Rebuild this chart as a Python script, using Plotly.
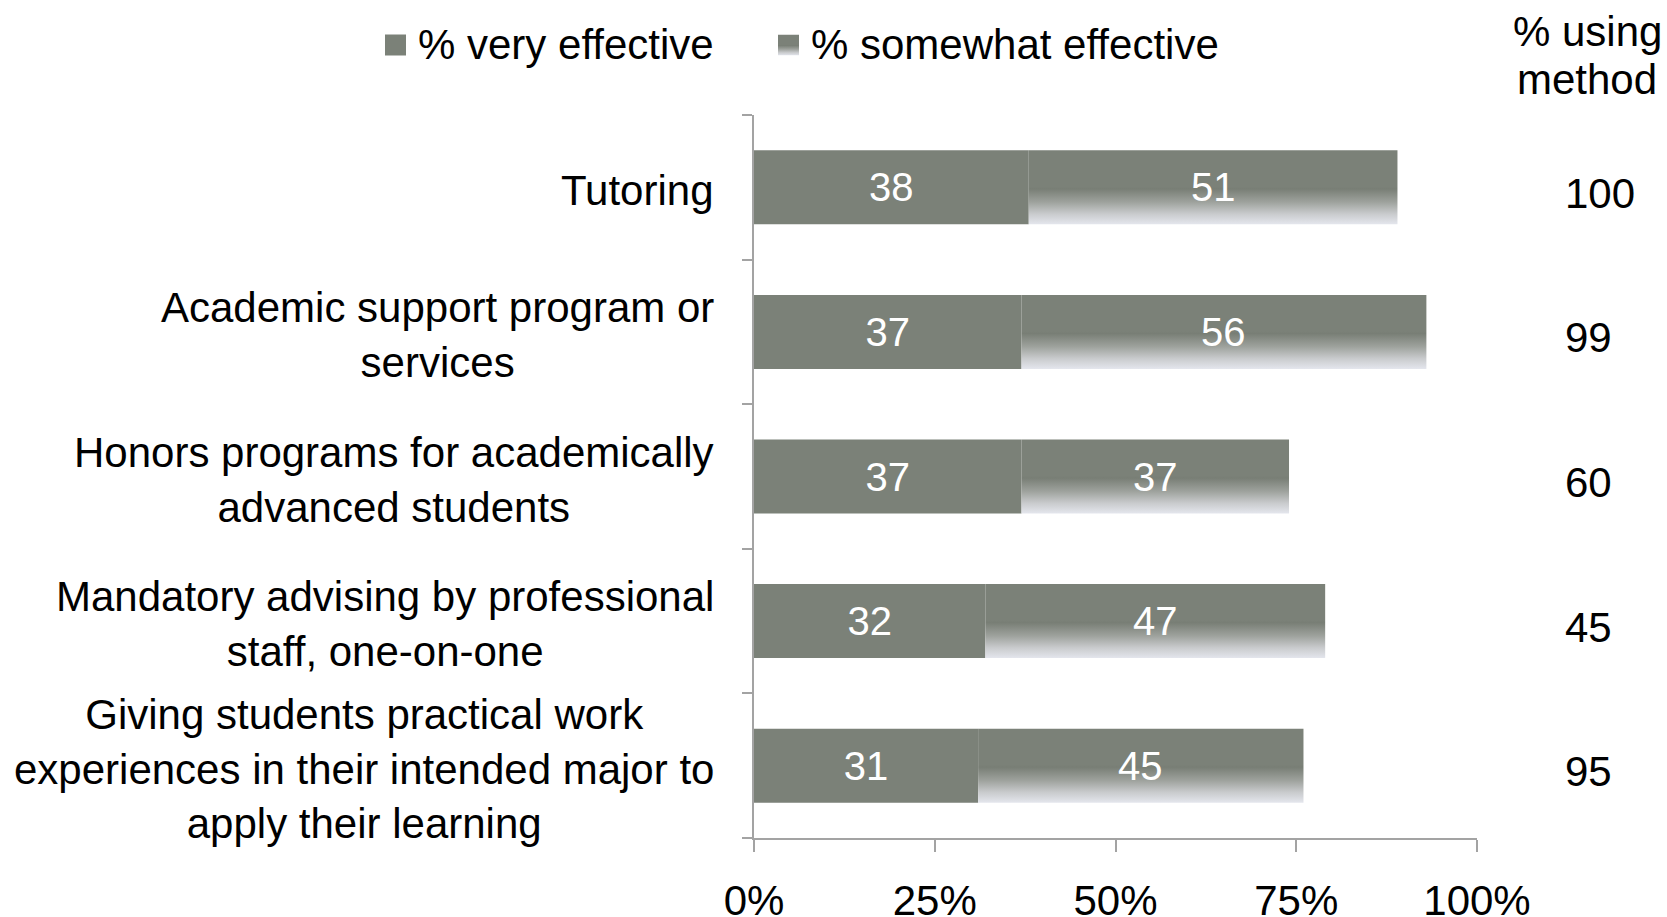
import base64
import plotly.graph_objects as go

# --- data -------------------------------------------------------------
categories = [
    "Tutoring",
    "Academic support program or<br>services",
    "Honors programs for academically<br>advanced students",
    "Mandatory advising by professional<br>staff, one-on-one",
    "Giving students practical work<br>experiences in their intended major to<br>apply their learning",
]
very_effective = [38, 37, 37, 32, 31]
somewhat_effective = [51, 56, 37, 47, 45]
using_method = [100, 99, 60, 45, 95]
x_tick_values = [0, 25, 50, 75, 100]
x_tick_labels = ["0%", "25%", "50%", "75%", "100%"]
series_names = ["% very effective", "% somewhat effective"]
using_header = ["% using", "method"]

# --- styling ----------------------------------------------------------
FONT = "Liberation Sans, Arial, sans-serif"
GRAY = "#7b8178"
AXIS_GRAY = "#a3a3a3"
BAR_W = 0.512
TEXT_SIZE = 42
VALUE_SIZE = 40
W, H = 1667, 917
M_L, M_R, M_T, M_B = 754, 190, 115, 79
PLOT_W, PLOT_H = W - M_L - M_R, H - M_T - M_B

# colour stops of the "somewhat" fill, listed from the top edge downwards
GRADIENT_TOP_DOWN = [
    (0.0, GRAY), (0.49, GRAY), (0.52, "#787e75"),
    (0.7, "#9ea29d"), (0.86, "#c9cbcd"), (1.0, "#e4e6ed"),
]
somewhat_scale = sorted([[1 - o, c] for o, c in GRADIENT_TOP_DOWN])


def px_x(p):
    """pixel column -> paper x"""
    return (p - M_L) / PLOT_W


def px_y(p):
    """pixel row -> paper y"""
    return (H - M_B - p) / PLOT_H


rows = list(range(len(categories)))
fig = go.Figure()

# first segment: % very effective
fig.add_trace(go.Bar(
    orientation="h", y=rows, x=very_effective, width=BAR_W,
    marker=dict(color=GRAY, line=dict(width=0)),
    text=[str(v) for v in very_effective], textposition="inside",
    insidetextanchor="middle", textangle=0,
    textfont=dict(family=FONT, size=VALUE_SIZE, color="white"),
    name=series_names[0], hoverinfo="skip", showlegend=False,
))

# second segment: % somewhat effective, drawn as gradient-filled boxes
for i, (v, s) in enumerate(zip(very_effective, somewhat_effective)):
    x0, x1 = v, v + s
    y0, y1 = i - BAR_W / 2, i + BAR_W / 2
    fig.add_trace(go.Scatter(
        x=[x0, x1, x1, x0, x0], y=[y0, y0, y1, y1, y0],
        mode="none", fill="toself", fillcolor=GRAY,
        fillgradient=dict(type="vertical", colorscale=somewhat_scale),
        name=series_names[1], showlegend=False, hoverinfo="skip",
    ))

annotations = []
# values on the second segment
for i, (v, s) in enumerate(zip(very_effective, somewhat_effective)):
    annotations.append(dict(
        text=str(s), xref="x", x=v + s / 2, yref="y", y=i,
        xanchor="center", yanchor="middle", showarrow=False,
        font=dict(family=FONT, size=VALUE_SIZE, color="white"),
    ))

# category labels
for i, label in enumerate(categories):
    annotations.append(dict(
        text=label, xref="paper", x=0, xanchor="right", xshift=-38,
        align="center", yref="y", y=i, yanchor="middle", yshift=-3,
        showarrow=False, font=dict(family=FONT, size=TEXT_SIZE, color="black"),
    ))

# right-hand column: % using method
for i, u in enumerate(using_method):
    annotations.append(dict(
        text=str(u), xref="paper", x=px_x(1563), xanchor="left",
        yref="y", y=i, yanchor="middle", yshift=-6,
        showarrow=False, font=dict(family=FONT, size=TEXT_SIZE, color="black"),
    ))
for k, line in enumerate(using_header):
    annotations.append(dict(
        text=line, xref="paper", x=px_x(1587), xanchor="center",
        yref="paper", y=px_y(32 + 48 * k), yanchor="middle",
        showarrow=False, font=dict(family=FONT, size=TEXT_SIZE, color="black"),
    ))

# legend: square keys with their names
KEY = 21
legend_keys_x = [385, 778]
legend_y = 45
for name, kx in zip(series_names, legend_keys_x):
    annotations.append(dict(
        text=name, xref="paper", x=px_x(kx + KEY + 10), xanchor="left",
        yref="paper", y=px_y(legend_y), yanchor="middle",
        showarrow=False, font=dict(family=FONT, size=TEXT_SIZE, color="black"),
    ))

shapes = [dict(
    type="rect", xref="paper", yref="paper",
    x0=px_x(legend_keys_x[0]), x1=px_x(legend_keys_x[0] + KEY),
    y0=px_y(legend_y - KEY / 2), y1=px_y(legend_y + KEY / 2),
    fillcolor=GRAY, line=dict(width=0), layer="above",
)]

stops = "".join(
    f'<stop offset="{o}" stop-color="{c}"/>' for o, c in GRADIENT_TOP_DOWN
)
svg = (
    f'<svg xmlns="http://www.w3.org/2000/svg" width="{KEY}" height="{KEY}">'
    f'<defs><linearGradient id="g" x1="0" y1="0" x2="0" y2="1">{stops}'
    f'</linearGradient></defs><rect width="{KEY}" height="{KEY}" fill="url(#g)"/></svg>'
)
gradient_key = "data:image/svg+xml;base64," + base64.b64encode(svg.encode()).decode()
images = [dict(
    source=gradient_key, xref="paper", yref="paper",
    x=px_x(legend_keys_x[1]), y=px_y(legend_y - KEY / 2),
    sizex=KEY / PLOT_W, sizey=KEY / PLOT_H,
    xanchor="left", yanchor="top", sizing="stretch", layer="above",
)]

fig.update_layout(
    width=W, height=H,
    margin=dict(l=M_L, r=M_R, t=M_T, b=M_B, pad=0, autoexpand=False),
    paper_bgcolor="white", plot_bgcolor="white",
    barmode="overlay",
    font=dict(family=FONT, size=TEXT_SIZE, color="black"),
    showlegend=False,
    annotations=annotations, shapes=shapes, images=images,
    xaxis=dict(
        range=[0, 100], tickvals=x_tick_values, ticktext=x_tick_labels,
        showgrid=False, zeroline=False, showline=True,
        linecolor=AXIS_GRAY, linewidth=2, automargin=False,
        ticks="outside", ticklen=12, tickwidth=2, tickcolor=AXIS_GRAY,
        ticklabelstandoff=13,
        tickfont=dict(family=FONT, size=TEXT_SIZE, color="black"),
        fixedrange=True,
    ),
    yaxis=dict(
        range=[len(categories) - 0.5, -0.5],
        tickvals=[r - 0.5 for r in rows] + [len(categories) - 0.5],
        ticktext=[""] * (len(categories) + 1),
        showgrid=False, zeroline=False, showline=True,
        linecolor=AXIS_GRAY, linewidth=2, automargin=False,
        ticks="outside", ticklen=10, tickwidth=2, tickcolor=AXIS_GRAY,
        fixedrange=True,
    ),
)

fig.write_html("out.html", config={"displayModeBar": False})
